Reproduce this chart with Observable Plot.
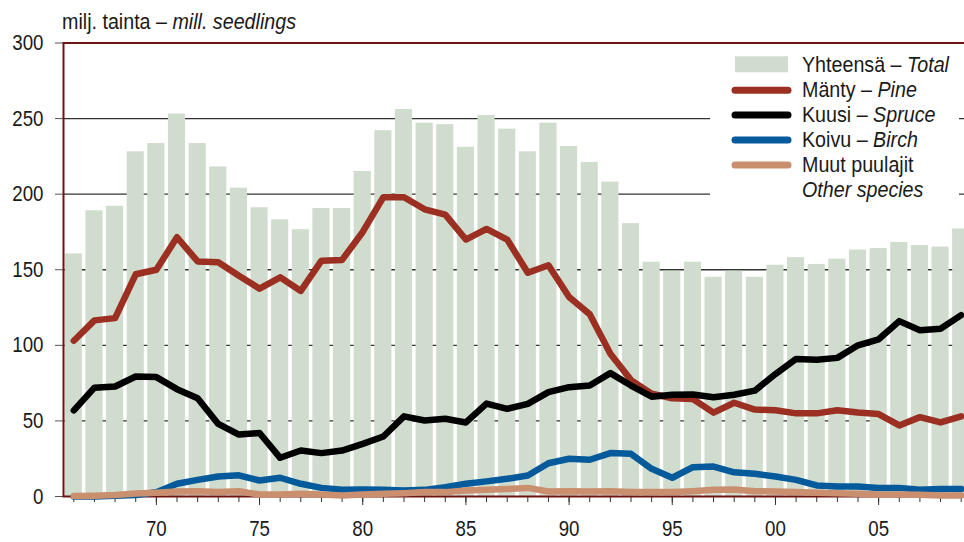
<!DOCTYPE html>
<html><head><meta charset="utf-8">
<script src="https://cdn.jsdelivr.net/npm/d3@7"></script>
<script src="https://cdn.jsdelivr.net/npm/@observablehq/plot@0.6"></script>
<style>body{margin:0;background:#fff;} #chart svg{display:block;}</style>
</head><body><div id="chart"></div>
<script>
const years = [1966,1967,1968,1969,1970,1971,1972,1973,1974,1975,1976,1977,1978,1979,1980,1981,1982,1983,1984,1985,1986,1987,1988,1989,1990,1991,1992,1993,1994,1995,1996,1997,1998,1999,2000,2001,2002,2003,2004,2005,2006,2007,2008,2009];
const total = [160.5,189,192,228,233.5,253,233.5,218,204,191, 183,176.5,190.5,190.5,215,242,256,247,246,231, 252,243,228,247,231.5,221,208,180.5,155,149, 155,145,149,145,153,158,153.5,157,163,164, 168,166,165,177];
const pine = [103,116.5,118,147,150,171.5,155.5,155,146,137.5, 145,136,156,156.5,175,198,198,190,186.5,170, 177,170,148,153,132,120.5,94.5,77,68,65, 64.5,55.5,62,57.5,57,55,55,57,55.5,54.5, 47,52.5,49,53];
const spruce = [57,72,72.8,79.4,79,71,65,48,41,42, 25.6,30.4,28.7,30.4,34.8,39.7,53,50.3,51.4,49, 61.5,58,61.3,69,72.3,73.4,81.6,73.4,66,67.3, 67.5,65.7,67.3,70,81,91,90.4,91.7,100,104, 116,110,111,120];
const birch = [0,0,0.5,1,2.8,8.4,11,13.2,14,10.6, 12.4,8.4,5.7,4.4,4.6,4.4,4,4.4,6.2,8.4, 10,11.7,13.9,22,25,24.3,28.7,28.2,18.3,12.4, 19.4,19.8,16,15,13.2,11,7.3,6.6,6.6,5.7, 5.7,4.4,5,5];
const other = [0.3,0.5,1,2,2.5,3.3,3.5,2.9,3.5,1.3, 1.3,1.8,1.3,0.7,1.3,1.8,2.2,2.9,2.9,4, 4.5,5,5.7,3.3,3.5,3.3,3.5,3,2.9,2.9, 3.5,4.4,4.6,3.5,3.3,2.9,2.4,2.2,1.8,1.3, 1.3,1.1,0.7,0.7];
const yTicks = [0,50,100,150,200,250,300];
const gridValues = [50,100,150,200,250];
const labelYears = [1970,1975,1980,1985,1990,1995,2000,2005];
const legendItems = [
  {fi: "Yhteensä – ", en: "Total", kind: "rect", color: "#d0dccd"},
  {fi: "Mänty – ", en: "Pine", kind: "line", color: "#9a2f22"},
  {fi: "Kuusi – ", en: "Spruce", kind: "line", color: "#000000"},
  {fi: "Koivu – ", en: "Birch", kind: "line", color: "#045a9b"},
  {fi: "Muut puulajit", en: "", kind: "line", color: "#c98f6f"},
  {fi: "", en: "Other species", kind: "none", color: null}
];

const data = years.map((year, i) => ({year, total: total[i], pine: pine[i], spruce: spruce[i], birch: birch[i], other: other[i]}));
const FONT = '"Liberation Sans", Arial, sans-serif';
const AXIS_SQUEEZE = 0.85;
const TEXT_SQUEEZE = 0.895;
const frameColor = "#6e1212";
const lineOpts = {x: "year", strokeWidth: 6.5, strokeLinejoin: "round", strokeLinecap: "round"};

const plot = Plot.plot({
  width: 964, height: 542,
  marginTop: 42.5, marginBottom: 46, marginLeft: 63, marginRight: -7,
  style: {fontFamily: FONT, fontSize: "22px", color: "#1a1a1a", background: "white"},
  x: {type: "band", domain: years, paddingInner: 0.17, paddingOuter: 0.085, round: false},
  y: {domain: [0, 300]},
  marks: [
    Plot.ruleY(gridValues, {stroke: "#333", strokeWidth: 1.3}),
    Plot.barY(data, {x: "year", y: "total", fill: "#d0dccd"}),
    Plot.axisY({ticks: yTicks, tickSize: 8, tickPadding: 12, stroke: "#555", fontSize: 22, label: null}),
    Plot.axisX({ticks: years, tickSize: 6, tickFormat: () => "", label: null, stroke: "#333"}),
    Plot.axisX({ticks: labelYears, tickSize: 9, tickPadding: 15, tickFormat: d => String(d).slice(2), label: null, stroke: "#333", fontSize: 22}),
    Plot.frame({stroke: frameColor, strokeWidth: 2}),
    Plot.lineY(data, {...lineOpts, y: "birch", stroke: "#045a9b"}),
    Plot.lineY(data, {...lineOpts, y: "other", stroke: "#c98f6f"}),
    Plot.lineY(data, {...lineOpts, y: "pine", stroke: "#9a2f22"}),
    Plot.lineY(data, {...lineOpts, y: "spruce", stroke: "#000000"})
  ]
});
document.getElementById("chart").appendChild(plot);

const svg = d3.select(plot);
// condense the axis tick labels horizontally around their anchor
svg.selectAll("text").each(function() {
  const el = d3.select(this);
  const tr = el.attr("transform") || "";
  el.attr("transform", (tr + ` scale(${AXIS_SQUEEZE},1)`).trim());
});

function addText(parent, x, y) {
  return parent.append("text")
    .attr("transform", `translate(${x},${y}) scale(${TEXT_SQUEEZE},1)`)
    .attr("text-anchor", "start")
    .attr("font-family", FONT).attr("font-size", 22).attr("fill", "#1a1a1a");
}

const title = addText(svg, 62, 29);
title.append("tspan").text("milj. tainta – ");
title.append("tspan").attr("font-style", "italic").text("mill. seedlings");

const lg = svg.append("g");
lg.append("rect").attr("x", 710).attr("y", 44).attr("width", 249).attr("height", 160).attr("fill", "white");
legendItems.forEach((d, i) => {
  const base = 72.3 + i * 24.9;
  if (d.kind === "rect") {
    lg.append("rect").attr("x", 735).attr("y", base - 16).attr("width", 53).attr("height", 16).attr("fill", d.color);
  } else if (d.kind === "line") {
    lg.append("line").attr("x1", 735).attr("x2", 788).attr("y1", base - 7).attr("y2", base - 7)
      .attr("stroke", d.color).attr("stroke-width", 7).attr("stroke-linecap", "round");
  }
  const t = addText(lg, 802, base);
  if (d.fi) t.append("tspan").text(d.fi);
  if (d.en) t.append("tspan").attr("font-style", "italic").text(d.en);
});
</script>
</body></html>
